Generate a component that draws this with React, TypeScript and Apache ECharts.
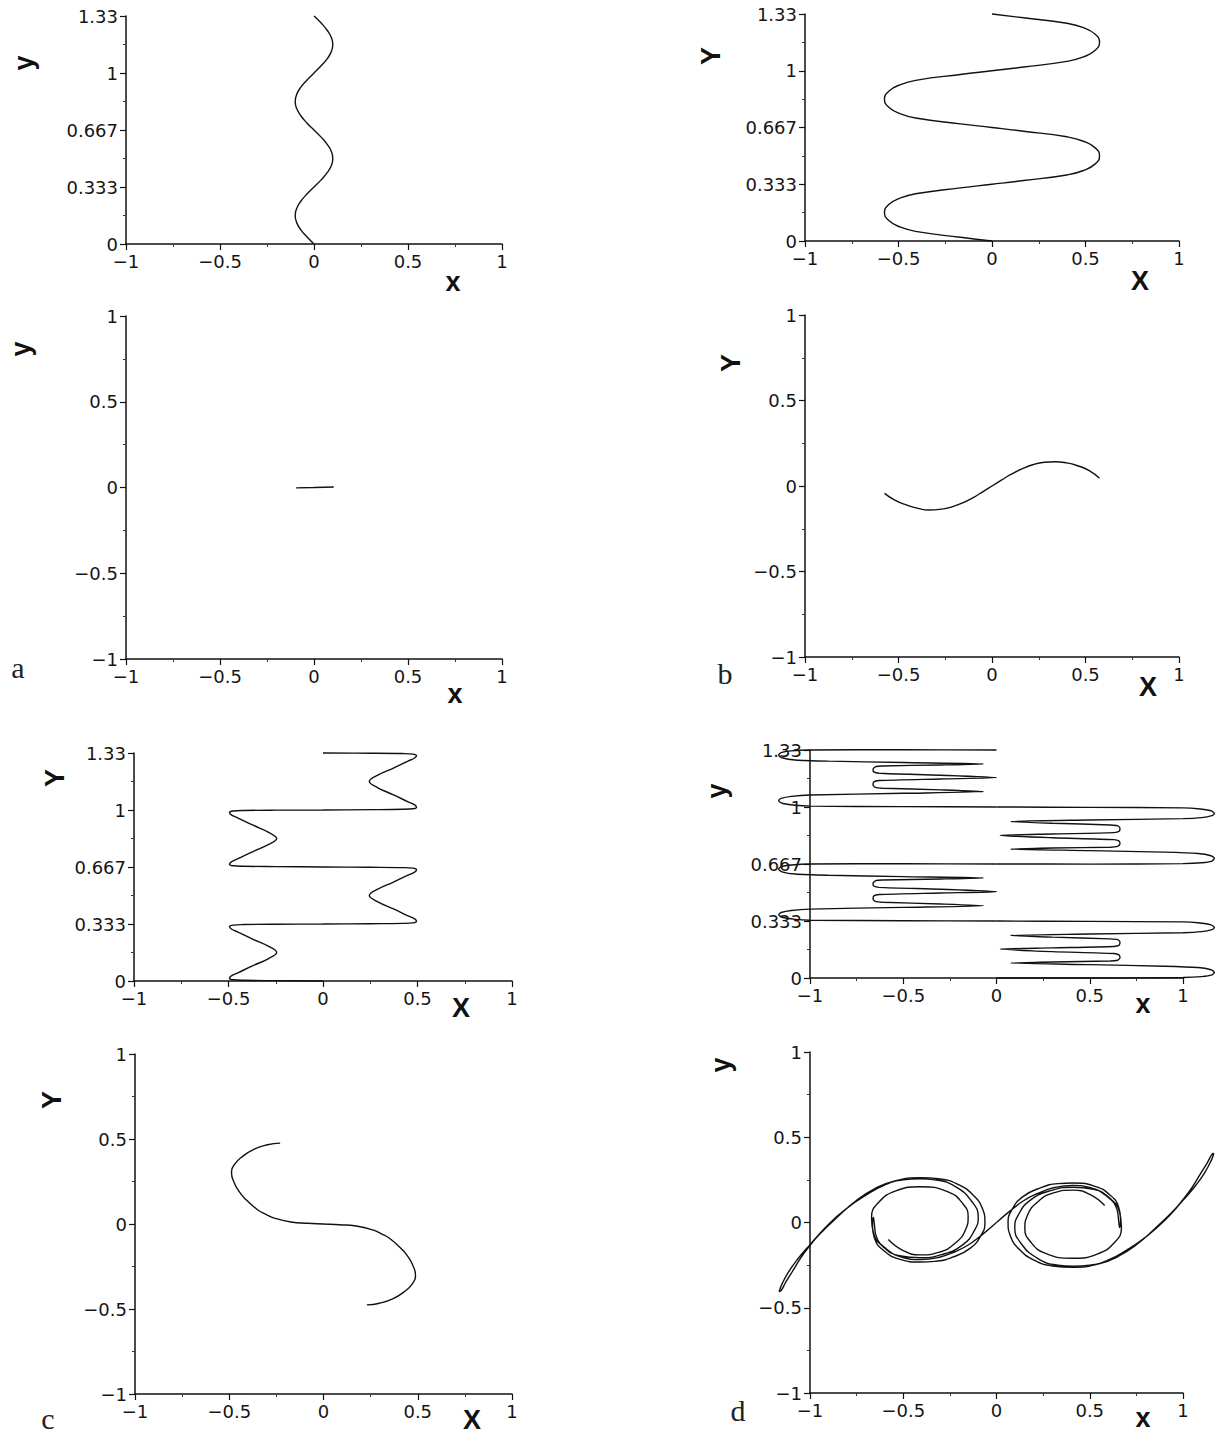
import React, { useEffect, useRef } from "react";
import * as echarts from "echarts";

// ---------- tick labels ----------
const xTickValues = [-1, -0.5, 0, 0.5, 1];
const xTickLabels = ["−1", "−0.5", "0", "0.5", "1"];
const yTallTickLabels = ["0", "0.333", "0.667", "1", "1.33"]; // ticks every 1/3
const ySquareTickValues = [-1, -0.5, 0, 0.5, 1];
const ySquareTickLabels = ["−1", "−0.5", "0", "0.5", "1"];

// ---------- curve data [x, y] ----------
const curveATop = [
  [0, 0], [-0.038, 0.042], [-0.07, 0.083], [-0.092, 0.125], [-0.1, 0.167], [-0.092, 0.208], [-0.07, 0.25], [-0.038, 0.292],
  [0, 0.333], [0.038, 0.375], [0.07, 0.417], [0.092, 0.458], [0.1, 0.5], [0.092, 0.542], [0.07, 0.583], [0.038, 0.625],
  [0, 0.667], [-0.038, 0.708], [-0.07, 0.75], [-0.092, 0.792], [-0.1, 0.833], [-0.092, 0.875], [-0.07, 0.917], [-0.038, 0.958],
  [0, 1.0], [0.038, 1.042], [0.07, 1.083], [0.092, 1.125], [0.1, 1.167], [0.092, 1.208], [0.07, 1.25], [0.038, 1.292], [0, 1.333],
];
const curveABottom = [[-0.095, -0.002], [0, 0], [0.105, 0.003]];

const curveBTop = [
  [0, 0], [-0.169, 0.022], [-0.4, 0.055], [-0.489, 0.081], [-0.552, 0.12], [-0.575, 0.167], [-0.552, 0.214], [-0.489, 0.253], [-0.4, 0.279], [-0.169, 0.312],
  [0, 0.333], [0.169, 0.355], [0.4, 0.388], [0.489, 0.414], [0.552, 0.453], [0.575, 0.5], [0.552, 0.547], [0.489, 0.586], [0.4, 0.612], [0.169, 0.645],
  [0, 0.667], [-0.169, 0.688], [-0.4, 0.721], [-0.489, 0.747], [-0.552, 0.786], [-0.575, 0.833], [-0.552, 0.88], [-0.489, 0.919], [-0.4, 0.945], [-0.169, 0.978],
  [0, 1.0], [0.169, 1.022], [0.4, 1.055], [0.489, 1.081], [0.552, 1.12], [0.575, 1.167], [0.552, 1.214], [0.489, 1.253], [0.4, 1.279], [0.169, 1.311], [0, 1.333],
];
const curveBBottom = [
  [-0.575, -0.043], [-0.52, -0.082], [-0.454, -0.112], [-0.395, -0.131], [-0.338, -0.14], [-0.28, -0.137], [-0.222, -0.125], [-0.16, -0.1],
  [-0.098, -0.066], [-0.05, -0.034], [0, 0], [0.05, 0.034], [0.098, 0.066], [0.16, 0.1], [0.222, 0.126], [0.28, 0.139], [0.338, 0.142],
  [0.395, 0.136], [0.454, 0.12], [0.52, 0.09], [0.575, 0.045],
];

const curveCTop = [
  [0, 0], [-0.25, 0.002], [-0.42, 0.004], [-0.475, 0.007], [-0.495, 0.016], [-0.485, 0.03], [-0.45, 0.048], [-0.37, 0.09], [-0.29, 0.13],
  [-0.245, 0.167], [-0.29, 0.204], [-0.37, 0.244], [-0.45, 0.286], [-0.485, 0.304], [-0.495, 0.318], [-0.475, 0.327], [-0.42, 0.33], [-0.25, 0.332],
  [0, 0.333], [0.25, 0.335], [0.42, 0.337], [0.475, 0.34], [0.495, 0.349], [0.485, 0.363], [0.45, 0.381], [0.37, 0.423], [0.29, 0.463],
  [0.245, 0.5], [0.29, 0.537], [0.37, 0.577], [0.45, 0.619], [0.485, 0.637], [0.495, 0.651], [0.475, 0.66], [0.42, 0.663], [0.25, 0.665],
  [0, 0.667], [-0.25, 0.669], [-0.42, 0.671], [-0.475, 0.674], [-0.495, 0.683], [-0.485, 0.697], [-0.45, 0.715], [-0.37, 0.757], [-0.29, 0.797],
  [-0.245, 0.833], [-0.29, 0.871], [-0.37, 0.911], [-0.45, 0.953], [-0.485, 0.971], [-0.495, 0.985], [-0.475, 0.994], [-0.42, 0.997], [-0.25, 0.999],
  [0, 1.0], [0.25, 1.002], [0.42, 1.004], [0.475, 1.007], [0.495, 1.016], [0.485, 1.03], [0.45, 1.048], [0.37, 1.09], [0.29, 1.13],
  [0.245, 1.167], [0.29, 1.204], [0.37, 1.244], [0.45, 1.286], [0.485, 1.304], [0.495, 1.318], [0.475, 1.327], [0.42, 1.33], [0.25, 1.332], [0, 1.333],
];
const curveCBottom = [
  [-0.23, 0.476], [-0.297, 0.466], [-0.367, 0.441], [-0.429, 0.398], [-0.473, 0.349], [-0.488, 0.3], [-0.473, 0.241], [-0.45, 0.195],
  [-0.42, 0.153], [-0.35, 0.084], [-0.305, 0.057], [-0.261, 0.035], [-0.173, 0.012], [-0.085, 0.004], [0, 0], [0.085, -0.004],
  [0.173, -0.012], [0.261, -0.035], [0.305, -0.057], [0.35, -0.084], [0.42, -0.153], [0.45, -0.195], [0.473, -0.241], [0.488, -0.3],
  [0.473, -0.349], [0.429, -0.398], [0.367, -0.441], [0.297, -0.466], [0.23, -0.476],
];

const curveDTopUpperLeft = [
  [0, 1.333], [-0.5, 1.335], [-1.0, 1.333], [-1.1, 1.328], [-1.155, 1.318], [-1.168, 1.303], [-1.15, 1.288], [-1.08, 1.275], [-0.9, 1.268], [-0.5, 1.26], [-0.07, 1.252],
  [-0.3, 1.246], [-0.61, 1.24], [-0.65, 1.235], [-0.662, 1.22], [-0.658, 1.205], [-0.63, 1.197], [-0.3, 1.186], [0, 1.172],
  [-0.3, 1.164], [-0.63, 1.155], [-0.658, 1.147], [-0.662, 1.13], [-0.65, 1.115], [-0.61, 1.11], [-0.3, 1.1], [-0.07, 1.09],
  [-0.5, 1.08], [-1.0, 1.07], [-1.1, 1.062], [-1.155, 1.05], [-1.168, 1.038], [-1.15, 1.022], [-1.08, 1.01], [-1.0, 1.005], [-0.5, 1.002], [0, 1.0],
];
const curveDTopUpperRight = [
  [0, 1.0], [0.5, 0.998], [1.0, 0.995], [1.08, 0.99], [1.15, 0.978], [1.168, 0.962], [1.155, 0.95], [1.1, 0.938], [1.0, 0.932], [0.5, 0.924], [0.075, 0.915],
  [0.3, 0.905], [0.61, 0.895], [0.65, 0.89], [0.662, 0.875], [0.658, 0.858], [0.63, 0.85], [0.3, 0.842], [0.02, 0.834],
  [0.3, 0.82], [0.63, 0.809], [0.658, 0.8], [0.662, 0.785], [0.65, 0.77], [0.61, 0.765], [0.3, 0.76], [0.075, 0.754],
  [0.5, 0.745], [0.9, 0.736], [1.08, 0.728], [1.15, 0.715], [1.168, 0.7], [1.155, 0.684], [1.1, 0.674], [1.0, 0.669], [0.5, 0.666], [0, 0.667],
];
const curveDTopLowerLeft = [
  [0, 0.667], [-0.5, 0.668], [-1.0, 0.667], [-1.1, 0.661], [-1.155, 0.651], [-1.168, 0.636], [-1.15, 0.621], [-1.08, 0.608], [-0.9, 0.601], [-0.5, 0.593], [-0.07, 0.585],
  [-0.3, 0.579], [-0.61, 0.573], [-0.65, 0.568], [-0.662, 0.553], [-0.658, 0.538], [-0.63, 0.53], [-0.3, 0.519], [0, 0.505],
  [-0.3, 0.497], [-0.63, 0.488], [-0.658, 0.48], [-0.662, 0.463], [-0.65, 0.448], [-0.61, 0.443], [-0.3, 0.433], [-0.07, 0.423],
  [-0.5, 0.413], [-1.0, 0.403], [-1.1, 0.395], [-1.155, 0.383], [-1.168, 0.371], [-1.15, 0.355], [-1.08, 0.343], [-1.0, 0.338], [-0.5, 0.335], [0, 0.333],
];
const curveDTopLowerRight = [
  [0, 0.333], [0.5, 0.331], [1.0, 0.328], [1.08, 0.323], [1.15, 0.311], [1.168, 0.295], [1.155, 0.283], [1.1, 0.271], [1.0, 0.265], [0.5, 0.257], [0.075, 0.249],
  [0.3, 0.239], [0.61, 0.229], [0.65, 0.224], [0.662, 0.209], [0.658, 0.192], [0.63, 0.184], [0.3, 0.176], [0.02, 0.169],
  [0.3, 0.154], [0.63, 0.143], [0.658, 0.134], [0.662, 0.119], [0.65, 0.104], [0.61, 0.099], [0.3, 0.094], [0.075, 0.088],
  [0.5, 0.078], [0.9, 0.069], [1.08, 0.061], [1.15, 0.048], [1.168, 0.033], [1.155, 0.018], [1.1, 0.008], [1.0, 0.003], [0.5, 0.0], [0, 0],
];

const curveDBottomLeft = [
  [-0.58, -0.1], [-0.5, -0.165], [-0.41, -0.19], [-0.31, -0.175], [-0.22, -0.12], [-0.165, -0.04], [-0.152, 0.035], [-0.18, 0.11], [-0.26, 0.18],
  [-0.41, 0.21], [-0.54, 0.185], [-0.63, 0.12], [-0.67, 0.03], [-0.66, -0.06], [-0.61, -0.14], [-0.52, -0.195], [-0.41, -0.207], [-0.3, -0.19],
  [-0.18, -0.13], [-0.115, -0.04], [-0.098, 0.03], [-0.13, 0.12], [-0.22, 0.21], [-0.33, 0.25], [-0.41, 0.256], [-0.5, 0.25], [-0.6, 0.22],
  [-0.7, 0.16], [-0.8, 0.085], [-0.9, -0.01], [-1.0, -0.13], [-1.07, -0.22], [-1.115, -0.29], [-1.15, -0.36], [-1.165, -0.405], [-1.155, -0.4],
  [-1.13, -0.35], [-1.09, -0.28], [-1.045, -0.2], [-1.0, -0.135], [-0.95, -0.07], [-0.85, 0.035], [-0.75, 0.13], [-0.65, 0.2], [-0.55, 0.243],
  [-0.41, 0.263], [-0.3, 0.255], [-0.2, 0.22], [-0.12, 0.155], [-0.075, 0.08], [-0.062, 0.0], [-0.08, -0.07], [-0.14, -0.15], [-0.24, -0.205],
  [-0.33, -0.228], [-0.41, -0.232], [-0.52, -0.215], [-0.61, -0.16], [-0.655, -0.09], [-0.665, -0.02], [-0.66, 0.03], [-0.655, -0.01],
  [-0.645, -0.08], [-0.59, -0.155], [-0.5, -0.205], [-0.41, -0.218], [-0.31, -0.205], [-0.22, -0.17], [-0.143, -0.126], [-0.07, -0.065], [0, 0],
];
const curveDBottomRight = [
  [0, 0], [0.07, 0.065], [0.143, 0.126], [0.22, 0.17], [0.31, 0.205], [0.41, 0.218], [0.5, 0.205], [0.59, 0.155], [0.645, 0.08], [0.655, 0.01],
  [0.66, -0.03], [0.665, 0.02], [0.655, 0.09], [0.61, 0.16], [0.52, 0.215], [0.41, 0.232], [0.33, 0.228], [0.24, 0.205], [0.14, 0.15], [0.08, 0.07],
  [0.062, 0.0], [0.075, -0.08], [0.12, -0.155], [0.2, -0.22], [0.3, -0.255], [0.41, -0.263], [0.55, -0.243], [0.65, -0.2], [0.75, -0.13],
  [0.85, -0.035], [0.95, 0.07], [1.0, 0.135], [1.045, 0.2], [1.09, 0.28], [1.13, 0.35], [1.155, 0.4], [1.165, 0.405], [1.15, 0.36], [1.115, 0.29],
  [1.07, 0.22], [1.0, 0.13], [0.9, 0.01], [0.8, -0.085], [0.7, -0.16], [0.6, -0.22], [0.5, -0.25], [0.41, -0.256], [0.33, -0.25], [0.22, -0.21],
  [0.13, -0.12], [0.098, -0.03], [0.115, 0.04], [0.18, 0.13], [0.3, 0.19], [0.41, 0.207], [0.52, 0.195], [0.61, 0.14], [0.66, 0.06], [0.67, -0.03],
  [0.63, -0.12], [0.54, -0.185], [0.41, -0.21], [0.26, -0.18], [0.18, -0.11], [0.152, -0.035], [0.165, 0.04], [0.22, 0.12], [0.31, 0.175],
  [0.41, 0.19], [0.5, 0.165], [0.58, 0.1],
];

// ---------- layout ----------
const GRIDS = [
  { left: 126, top: 16, width: 376, height: 228 },
  { left: 805, top: 14, width: 374, height: 227 },
  { left: 126, top: 316, width: 376, height: 343 },
  { left: 805, top: 315, width: 374, height: 342 },
  { left: 134, top: 753, width: 378, height: 228 },
  { left: 810, top: 750, width: 373, height: 228 },
  { left: 135, top: 1054, width: 377, height: 340 },
  { left: 810, top: 1052, width: 373, height: 341 },
];
const TALL = [true, true, false, false, true, true, false, false];
// panels whose curves run past the axes: drawn on a hidden, wider grid with the same scale
const OVERFLOW_PANELS = [5, 7];
const OVERFLOW_PAD = 0.3; // extra axis units on each side

const PANEL_SERIES = [
  [{ data: curveATop, smooth: 0.5 }],
  [{ data: curveBTop, smooth: 0.5 }],
  [{ data: curveABottom, smooth: false }],
  [{ data: curveBBottom, smooth: 0.5 }],
  [{ data: curveCTop, smooth: 0.4 }],
  [
    { data: curveDTopUpperLeft, smooth: 0.25 },
    { data: curveDTopUpperRight, smooth: 0.25 },
    { data: curveDTopLowerLeft, smooth: 0.25 },
    { data: curveDTopLowerRight, smooth: 0.25 },
  ],
  [{ data: curveCBottom, smooth: 0.5 }],
  [
    { data: curveDBottomLeft, smooth: 0.5 },
    { data: curveDBottomRight, smooth: 0.5 },
  ],
];

const AXIS_NAMES = [
  { t: "y", x: 24, y: 63, rot: true }, { t: "x", x: 453, y: 282 },
  { t: "Y", x: 711, y: 56, rot: true }, { t: "X", x: 1140, y: 281 },
  { t: "y", x: 21, y: 349, rot: true }, { t: "x", x: 455, y: 694 },
  { t: "Y", x: 731, y: 363, rot: true }, { t: "X", x: 1148, y: 687 },
  { t: "Y", x: 55, y: 778, rot: true }, { t: "X", x: 461, y: 1008 },
  { t: "y", x: 717, y: 791, rot: true }, { t: "x", x: 1143, y: 1004 },
  { t: "Y", x: 52, y: 1100, rot: true }, { t: "X", x: 472, y: 1420 },
  { t: "y", x: 721, y: 1065, rot: true }, { t: "x", x: 1143, y: 1418 },
];
const PANEL_LETTERS = [
  { t: "a", x: 18, y: 667 },
  { t: "b", x: 725, y: 673 },
  { t: "c", x: 48, y: 1418 },
  { t: "d", x: 738, y: 1410 },
];

const INK = "#111111";

export default function App() {
  const ref = useRef<HTMLDivElement>(null);
  useEffect(() => {
    if (!ref.current) return;
    const chart = echarts.init(ref.current, undefined, { renderer: "svg" });

    const ranges = GRIDS.map((_, i) => ({
      x: [-1, 1],
      y: TALL[i] ? [0, 4 / 3] : [-1, 1],
    }));

    const grid: any[] = GRIDS.map((g) => ({ ...g, containLabel: false, outerBoundsMode: "none" }));

    const commonAxis = {
      axisLine: { show: true, onZero: false, lineStyle: { color: INK, width: 1.5 } },
      axisTick: { show: true, length: 6, inside: false, lineStyle: { color: INK, width: 1.2 } },
      minorTick: { show: true, splitNumber: 2, length: 3, lineStyle: { color: "#333", width: 1 } },
      splitLine: { show: false },
      minorSplitLine: { show: false },
    };
    const labelStyle = { fontFamily: "DejaVu Sans", fontSize: 18, color: "#151515", margin: 8 };

    const xAxis: any[] = GRIDS.map((_, i) => ({
      type: "value",
      gridIndex: i,
      position: "bottom",
      min: -1,
      max: 1,
      interval: 0.5,
      ...commonAxis,
      axisLabel: {
        ...labelStyle,
        formatter: (v: number) => {
          const k = xTickValues.findIndex((t) => Math.abs(t - v) < 1e-6);
          return k >= 0 ? xTickLabels[k] : "";
        },
      },
    }));

    const yAxis: any[] = GRIDS.map((_, i) =>
      TALL[i]
        ? {
            type: "value",
            gridIndex: i,
            position: "left",
            min: 0,
            max: 4 / 3,
            interval: 1 / 3,
            ...commonAxis,
            axisLabel: {
              ...labelStyle,
              formatter: (v: number) => yTallTickLabels[Math.round(v * 3)] ?? "",
            },
          }
        : {
            type: "value",
            gridIndex: i,
            position: "left",
            min: -1,
            max: 1,
            interval: 0.5,
            ...commonAxis,
            axisLabel: {
              ...labelStyle,
              formatter: (v: number) => {
                const k = ySquareTickValues.findIndex((t) => Math.abs(t - v) < 1e-6);
                return k >= 0 ? ySquareTickLabels[k] : "";
              },
            },
          }
    );

    // hidden wider grids with identical scale for the overflowing panels
    const overlayIndex: Record<number, number> = {};
    OVERFLOW_PANELS.forEach((p) => {
      const g = GRIDS[p];
      const r = ranges[p];
      const pxPerX = g.width / (r.x[1] - r.x[0]);
      const pxPerY = g.height / (r.y[1] - r.y[0]);
      const pad = OVERFLOW_PAD;
      const idx = grid.length;
      overlayIndex[p] = idx;
      grid.push({
        left: g.left - pad * pxPerX,
        top: g.top - pad * pxPerY,
        width: g.width + 2 * pad * pxPerX,
        height: g.height + 2 * pad * pxPerY,
        containLabel: false,
        outerBoundsMode: "none",
      });
      xAxis.push({ type: "value", gridIndex: idx, show: false, min: r.x[0] - pad, max: r.x[1] + pad, splitLine: { show: false } });
      yAxis.push({ type: "value", gridIndex: idx, show: false, min: r.y[0] - pad, max: r.y[1] + pad, splitLine: { show: false } });
    });

    const series: any[] = [];
    PANEL_SERIES.forEach((list, i) => {
      const ai = overlayIndex[i] !== undefined ? overlayIndex[i] : i;
      list.forEach((s) => {
        series.push({
          type: "line",
          xAxisIndex: ai,
          yAxisIndex: ai,
          data: s.data,
          smooth: s.smooth,
          showSymbol: false,
          symbol: "none",
          clip: false,
          silent: true,
          lineStyle: { color: INK, width: 1.4 },
        });
      });
    });

    const graphic: any[] = [];
    AXIS_NAMES.forEach((n) => {
      graphic.push({
        type: "text",
        x: n.x,
        y: n.y,
        rotation: n.rot ? Math.PI / 2 : 0,
        silent: true,
        style: {
          text: n.t,
          font: 'bold 27px "Liberation Sans", Arial, sans-serif',
          fill: INK,
          align: "center",
          verticalAlign: "middle",
          textAlign: "center",
          textVerticalAlign: "middle",
        },
      });
    });
    PANEL_LETTERS.forEach((n) => {
      graphic.push({
        type: "text",
        x: n.x,
        y: n.y,
        silent: true,
        style: {
          text: n.t,
          font: '30px "Liberation Serif", "DejaVu Serif", serif',
          fill: "#222",
          align: "center",
          verticalAlign: "middle",
          textAlign: "center",
          textVerticalAlign: "middle",
        },
      });
    });

    chart.setOption({
      animation: false,
      backgroundColor: "#ffffff",
      grid,
      xAxis,
      yAxis,
      series,
      graphic,
    });
    return () => chart.dispose();
  }, []);

  return (
    <div
      ref={ref}
      style={{ position: "absolute", left: 0, top: 0, width: 1215, height: 1437, background: "#fff" }}
    />
  );
}
